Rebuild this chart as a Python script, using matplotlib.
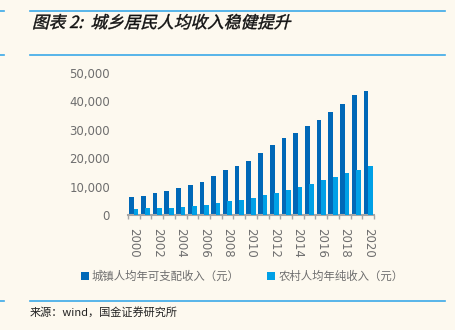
import numpy as np
import matplotlib
matplotlib.use('Agg')
import matplotlib.pyplot as plt
from matplotlib.textpath import TextPath
from matplotlib.font_manager import FontProperties
from matplotlib.patches import PathPatch
from matplotlib.transforms import Affine2D, IdentityTransform
from matplotlib.lines import Line2D

plt.rcParams['font.family'] = ['Noto Sans CJK SC', 'DejaVu Sans']

years = list(range(2000, 2021))
urban = [6280, 6860, 7703, 8472, 9422, 10493, 11759, 13786, 15781, 17175, 19109,
         21810, 24565, 26955, 28844, 31195, 33616, 36396, 39251, 42359, 43834]
rural = [2253, 2366, 2476, 2622, 2936, 3255, 3587, 4140, 4761, 5153, 5919,
         6977, 7917, 8896, 9892, 10772, 12363, 13432, 14617, 16021, 17131]
urban_label = '城镇人均年可支配收入（元）'
rural_label = '农村人均年纯收入（元）'
title = '图表 2:  城乡居民人均收入稳健提升'
source = '来源：wind，国金证券研究所'

bg = '#FDF9EF'
c_urban = '#0068B7'
c_rural = '#00A0E6'
line_blue = '#3BA9E8'
grey = '#6E6E6E'

W, H, DPI = 456, 330, 100
fig = plt.figure(figsize=(W / DPI, H / DPI), dpi=DPI, facecolor=bg)

ax = fig.add_axes([128 / W, 1 - 215 / H, 246 / W, 142 / H])
ax.set_facecolor(bg)

x = np.arange(len(years))
w = 0.4
ax.bar(x - 0.19, urban, width=w, color=c_urban, label=urban_label, zorder=2)
ax.bar(x + 0.19, rural, width=w, color=c_rural, label=rural_label, zorder=3)

ax.set_xlim(-0.5, len(years) - 0.5)
ax.set_ylim(0, 50000)
ax.set_yticks(range(0, 50001, 10000))
ax.set_yticklabels([f'{v:,}' for v in range(0, 50001, 10000)],
                   family='DejaVu Sans')
ax.set_xticks(x[::2])
ax.set_xticklabels([str(y) for y in years[::2]], rotation=-90, family='DejaVu Sans')
ax.set_xticks(np.arange(-0.5, len(years)), minor=True)
ax.tick_params(axis='y', length=0, pad=13, labelsize=8.5, labelcolor=grey)
ax.tick_params(axis='x', which='major', length=0, pad=9, labelsize=8.5, labelcolor=grey)
ax.tick_params(axis='x', which='minor', length=3, width=1, color='#A6A6A6')
for s in ['top', 'right', 'left']:
    ax.spines[s].set_visible(False)
ax.spines['bottom'].set_color('#A6A6A6')
ax.spines['bottom'].set_linewidth(1.5)

leg = ax.legend(loc='center left', bbox_to_anchor=(76 / W, (H - 276) / H),
                bbox_transform=fig.transFigure, ncol=2, frameon=False,
                fontsize=8.2, handlelength=0.7, handleheight=0.7,
                handletextpad=0.3, columnspacing=2.4, borderaxespad=0)
for t in leg.get_texts():
    t.set_color(grey)

# horizontal rules of the page
for yy in [11, 55, 301]:
    fig.add_artist(Line2D([30 / W, 445 / W], [1 - yy / H] * 2,
                          color=line_blue, lw=1.2))
    fig.add_artist(Line2D([0, 4 / W], [1 - yy / H] * 2, color=line_blue, lw=1.2))

# bold italic title (CJK font has no italic, so skew the glyph path)
fp = FontProperties(family='Noto Sans CJK SC', weight='medium', size=12)
tp = TextPath((0, 0), title, prop=fp)
tr = Affine2D().skew_deg(14, 0).scale(DPI / 72).translate(32, H - 28)
fig.add_artist(PathPatch(tp, transform=tr + IdentityTransform(),
                         color='#111111', lw=0.3))

fig.text(30 / W, 1 - 312 / H, source, fontsize=8, color='#222222', va='center')

fig.savefig('out.png', dpi=DPI, facecolor=bg)
